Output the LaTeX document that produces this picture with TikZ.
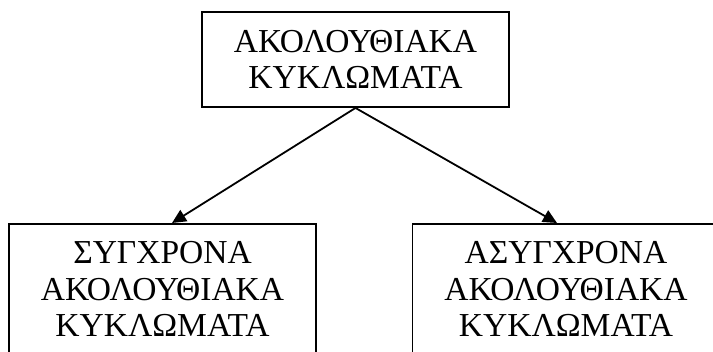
\documentclass[tikz,border=0pt]{standalone}
\usepackage{fontspec}
\setmainfont{Liberation Serif}
\usetikzlibrary{arrows.meta}

\begin{document}
\begin{tikzpicture}[x=1pt, y=1pt,
  box/.style={draw, line width=1.9pt, rectangle, align=center,
    minimum width=307pt, inner xsep=0pt,
    font=\fontsize{33.5}{36.5}\selectfont},
  link/.style={line width=1.8pt, -{Triangle[length=14pt, width=13pt]}}]
  \useasboundingbox (0,0) rectangle (713,352);
  \clip (0,0) rectangle (713,352);

  % root of the tree
  \node[box, minimum height=95pt] (top) at (355.5,292.5)
    {ΑΚΟΛΟΥΘΙΑΚΑ\\ΚΥΚΛΩΜΑΤΑ};

  % the two kinds, running past the lower edge
  \node[box, anchor=north, inner ysep=17.5pt] (sync) at (162.5,129)
    {ΣΥΓΧΡΟΝΑ\\ΑΚΟΛΟΥΘΙΑΚΑ\\ΚΥΚΛΩΜΑΤΑ\rule[-30pt]{0pt}{30pt}};
  \node[box, anchor=north, inner ysep=17.5pt] (async) at (566,129)
    {ΑΣΥΓΧΡΟΝΑ\\ΑΚΟΛΟΥΘΙΑΚΑ\\ΚΥΚΛΩΜΑΤΑ\rule[-30pt]{0pt}{30pt}};

  \draw[link] (top.south) -- ([xshift=9.5pt]sync.north);
  \draw[link] (top.south) -- ([xshift=-9pt]async.north);
\end{tikzpicture}
\end{document}
